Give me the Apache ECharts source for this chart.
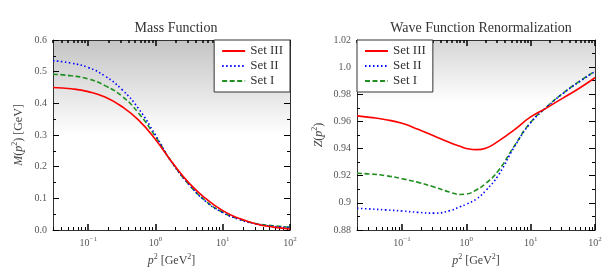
<!DOCTYPE html>
<html><head><meta charset="utf-8">
<script src="https://cdn.jsdelivr.net/npm/echarts@6/dist/echarts.min.js"></script>
<style>html,body{margin:0;padding:0;background:#fff}#c{width:613px;height:274px}</style>
</head><body><div id="c"></div>
<script>
// ---- data ----
const seriesNames = ['Set III', 'Set II', 'Set I'];
const titles = ['Mass Function', 'Wave Function Renormalization'];

// Mass function M(p^2) [GeV] vs p^2 [GeV^2]
const massP2 = [0.03, 0.0562, 0.1, 0.178, 0.316, 0.562, 1.0, 1.78, 3.16, 5.62, 10, 17.8, 31.6, 56.2, 100];
const massSetIII = [0.450, 0.446, 0.437, 0.420, 0.390, 0.347, 0.286, 0.213, 0.148, 0.099, 0.061, 0.036, 0.019, 0.009, 0.003];
const massSetII  = [0.535, 0.527, 0.513, 0.486, 0.444, 0.383, 0.300, 0.211, 0.144, 0.090, 0.055, 0.033, 0.019, 0.0115, 0.008];
const massSetI   = [0.492, 0.487, 0.477, 0.456, 0.423, 0.369, 0.295, 0.212, 0.143, 0.091, 0.056, 0.034, 0.020, 0.0135, 0.0085];

// Wave function renormalization Z(p^2) vs p^2 [GeV^2]
const zP2 = [0.02, 0.0316, 0.0562, 0.1, 0.178, 0.316, 0.562, 0.8, 1.0, 1.45, 2.0, 3.16, 5.62, 10, 17.8, 31.6, 56.2, 100];
const zSetIII = [0.9641, 0.9630, 0.9613, 0.9586, 0.9542, 0.9492, 0.9443, 0.9417, 0.9401, 0.9392, 0.9403, 0.9455, 0.9540, 0.9633, 0.9700, 0.9772, 0.9843, 0.9922];
const zSetII  = [0.8960, 0.8955, 0.8948, 0.8940, 0.8930, 0.8924, 0.8943, 0.8972, 0.8990, 0.9030, 0.9090, 0.9205, 0.9415, 0.9590, 0.9705, 0.9805, 0.9890, 0.9968];
const zSetI   = [0.9218, 0.9213, 0.9200, 0.9178, 0.9151, 0.9117, 0.9078, 0.9062, 0.9065, 0.9097, 0.9143, 0.9238, 0.9422, 0.9594, 0.9708, 0.9807, 0.9893, 0.9970];

// axis ranges and ticks
const massXRange = [0.03, 100];
const zXRange = [0.02, 100];
const massYTicks = [0, 0.6, 0.1];
const zYTicks = [0.88, 1.02, 0.02];
const majorX = [0.1, 1, 10, 100];
const decades = [0.01, 0.1, 1, 10];
const minorX = [];
decades.forEach(d => { for (let k = 2; k <= 9; k++) minorX.push(+(k * d).toPrecision(3)); });

// ---- styles ----
const FONT = 'Liberation Serif';
const colors = ['#ff0000', '#0000ff', '#1f8f1f'];
const lineTypes = ['solid', [1.5, 2.5], [5, 2.5]];
const AX = '#333';
const LBL = '#555';

function xLabelFmt(v) {
  const e = Math.round(Math.log10(v));
  return '10{s|' + (e < 0 ? '\u2212' + (-e) : e) + '}';
}
const xRich = { s: { fontSize: 7, fontFamily: FONT, color: LBL, padding: [0, 0, 7, 0] } };
const nameRich = {
  i: { fontStyle: 'italic', fontFamily: FONT, fontSize: 12, color: '#444' },
  s: { fontSize: 8, fontFamily: FONT, color: '#444', padding: [0, 0, 7, 0] }
};

function xAxes(gi, range) {
  const base = { type: 'log', gridIndex: gi, min: range[0], max: range[1], logBase: 10, splitLine: { show: false }, minorTick: { show: false } };
  return [
    Object.assign({}, base, {
      position: 'bottom',
      name: '{i|p}{s|2} [GeV{s|2}]', nameLocation: 'middle', nameGap: 21,
      nameTextStyle: { fontFamily: FONT, fontSize: 12, color: '#444', rich: nameRich },
      axisLine: { show: true, onZero: false, lineStyle: { color: AX, width: 1 } },
      axisTick: { show: true, inside: true, length: 6, customValues: majorX, lineStyle: { color: '#000', width: 1.5 } },
      axisLabel: { show: true, customValues: majorX, formatter: xLabelFmt, fontFamily: FONT, fontSize: 10, color: LBL, margin: 6, rich: xRich }
    }),
    Object.assign({}, base, {
      position: 'bottom',
      axisLine: { show: false, onZero: false },
      axisTick: { show: true, inside: true, length: 3, customValues: minorX, lineStyle: { color: '#000', width: 1 } },
      axisLabel: { show: false }
    }),
    Object.assign({}, base, {
      position: 'top',
      axisLine: { show: true, onZero: false, lineStyle: { color: AX, width: 1 } },
      axisTick: { show: true, inside: true, length: 6, customValues: majorX, lineStyle: { color: '#000', width: 1.5 } },
      axisLabel: { show: false }
    }),
    Object.assign({}, base, {
      position: 'top',
      axisLine: { show: false, onZero: false },
      axisTick: { show: true, inside: true, length: 3, customValues: minorX, lineStyle: { color: '#000', width: 1.5 } },
      axisLabel: { show: false }
    })
  ];
}

function yAxes(gi, t, fmt, name, nameGap) {
  const base = { type: 'value', gridIndex: gi, min: t[0], max: t[1], interval: t[2], splitLine: { show: false } };
  return [
    Object.assign({}, base, {
      position: 'left',
      name: name, nameLocation: 'middle', nameGap: nameGap,
      nameTextStyle: { fontFamily: FONT, fontSize: 12, color: '#444', rich: nameRich },
      axisLine: { show: true, onZero: false, lineStyle: { color: AX } },
      axisTick: { show: true, inside: true, length: 6, lineStyle: { color: '#000', width: 1 } },
      minorTick: { show: true, splitNumber: 2, length: 3, lineStyle: { color: '#000', width: 1 } },
      axisLabel: { show: true, formatter: fmt, fontFamily: FONT, fontSize: 10, color: LBL, margin: 6 }
    }),
    Object.assign({}, base, {
      position: 'right',
      axisLine: { show: true, onZero: false, lineStyle: { color: AX } },
      axisTick: { show: true, inside: true, length: 6, lineStyle: { color: '#000', width: 1 } },
      minorTick: { show: true, splitNumber: 2, length: 3, lineStyle: { color: '#000', width: 1 } },
      axisLabel: { show: false }
    })
  ];
}

function mkSeries(gi, xs, arrs) {
  return arrs.map((vals, i) => ({
    type: 'line', name: seriesNames[i], xAxisIndex: gi * 4, yAxisIndex: gi * 2,
    data: xs.map((x, j) => [x, vals[j]]),
    smooth: 0.5, showSymbol: false, symbol: 'none', z: 5 - i,
    lineStyle: { color: colors[i], width: 1.6, type: lineTypes[i] },
    itemStyle: { color: colors[i] }
  }));
}

function grad(stops) {
  return new echarts.graphic.LinearGradient(0, 0, 0, 1, stops.map(s => ({ offset: s[0], color: s[1] })));
}

const chart = echarts.init(document.getElementById('c'), null, { renderer: 'canvas' });
const legendBase = {
  orient: 'vertical', top: 40, itemWidth: 23, itemHeight: 10, itemGap: 1,
  padding: [4, 7, 4, 7], backgroundColor: '#fff', borderColor: '#333', borderWidth: 1, borderRadius: 0,
  itemStyle: { opacity: 0, borderWidth: 0 },
  textStyle: { fontFamily: FONT, fontSize: 13, color: '#333', lineHeight: 14 }, data: seriesNames, z: 8
};
chart.setOption({
  animation: false,
  backgroundColor: '#fff',
  title: [
    { text: titles[0], left: 171, top: 16, textAlign: 'center', textStyle: { fontFamily: FONT, fontSize: 14, fontWeight: 'normal', color: '#333' } },
    { text: titles[1], left: 476, top: 16, textAlign: 'center', textStyle: { fontFamily: FONT, fontSize: 14, fontWeight: 'normal', color: '#333' } }
  ],
  legend: [
    Object.assign({}, legendBase, { right: 323 }),
    Object.assign({}, legendBase, { left: 357 })
  ],
  grid: [
    { left: 53, right: 323, top: 40, bottom: 44, show: true, borderWidth: 0, backgroundColor: grad([[0, '#c4c4c4'], [0.5, '#ffffff'], [1, '#ffffff']]) },
    { left: 357, right: 18, top: 40, bottom: 44, show: true, borderWidth: 0, backgroundColor: grad([[0, '#d6d6d6'], [0.33, '#ffffff'], [1, '#ffffff']]) }
  ],
  xAxis: xAxes(0, massXRange).concat(xAxes(1, zXRange)),
  yAxis: yAxes(0, massYTicks, v => v.toFixed(1), '{i|M}({i|p}{s|2}) [GeV]', 27)
    .concat(yAxes(1, zYTicks, v => { let s = v.toFixed(2); return s.endsWith('0') ? s.slice(0, -1) : s; }, '{i|Z}({i|p}{s|2})', 31)),
  series: mkSeries(0, massP2, [massSetIII, massSetII, massSetI]).concat(mkSeries(1, zP2, [zSetIII, zSetII, zSetI]))
});
</script></body></html>
